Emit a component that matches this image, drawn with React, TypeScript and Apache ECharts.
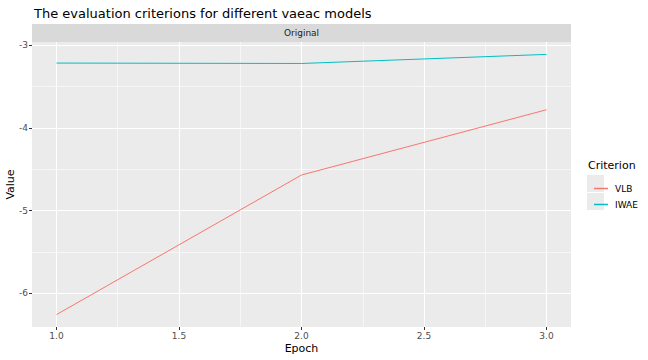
import React, { useEffect, useRef } from "react";
import * as echarts from "echarts";

const epochs = [1, 2, 3];
const vlbValues = [-6.26, -4.57, -3.78];
const iwaeValues = [-3.215, -3.22, -3.11];
const seriesNames = ["VLB", "IWAE"];
const seriesColors = ["#F8766D", "#00BFC4"];
const xMajorTicks = [1, 1.5, 2, 2.5, 3];
const xMinorTicks = [1.25, 1.75, 2.25, 2.75];
const yMajorTicks = [-6, -5, -4, -3];
const yMinorTicks = [-5.5, -4.5, -3.5];

const FONT = "DejaVu Sans, Liberation Sans, sans-serif";

export default function App() {
  const ref = useRef<HTMLDivElement>(null);
  useEffect(() => {
    if (!ref.current) return;
    const chart = echarts.init(ref.current, null, { renderer: "svg" });
    const gridLeft = 32;
    const gridRight = 571;
    const gridTop = 42;
    const gridBottom = 327;

    const gridLines: any[] = [];
    xMajorTicks.forEach((v) => gridLines.push({ xAxis: v, lineStyle: { color: "#ffffff", width: 1.1, type: "solid" } }));
    xMinorTicks.forEach((v) => gridLines.push({ xAxis: v, lineStyle: { color: "#ffffff", width: 0.55, type: "solid" } }));
    yMajorTicks.forEach((v) => gridLines.push({ yAxis: v, lineStyle: { color: "#ffffff", width: 1.1, type: "solid" } }));
    yMinorTicks.forEach((v) => gridLines.push({ yAxis: v, lineStyle: { color: "#ffffff", width: 0.55, type: "solid" } }));

    const option: any = {
      animation: false,
      textStyle: { fontFamily: FONT },
      title: {
        text: "The evaluation criterions for different vaeac models",
        left: 29,
        top: 2,
        textStyle: { fontSize: 13, fontWeight: "normal", color: "#000000", fontFamily: FONT },
      },
      grid: {
        left: gridLeft,
        right: 648 - gridRight,
        top: gridTop,
        bottom: 360 - gridBottom,
        containLabel: false,
        outerBoundsMode: "none",
        show: true,
        backgroundColor: "#EBEBEB",
        borderWidth: 0,
      },
      legend: {
        orient: "vertical",
        left: 589,
        top: 179,
        itemWidth: 14,
        itemHeight: 1.5,
        itemGap: 7,
        icon: "rect",
        data: seriesNames,
        textStyle: { fontSize: 9, color: "#000000", fontFamily: FONT, padding: [0, 0, 0, 2] },
        selectedMode: false,
      },
      xAxis: {
        type: "value",
        min: 0.9,
        max: 3.1,
        name: "Epoch",
        nameLocation: "middle",
        nameGap: 16,
        nameMoveOverlap: false,
        nameTextStyle: { fontSize: 11, color: "#000000", fontFamily: FONT },
        axisLine: { show: false },
        splitLine: { show: false },
        axisTick: { show: true, length: 3, lineStyle: { color: "#333333", width: 1 }, customValues: xMajorTicks },
        axisLabel: {
          customValues: xMajorTicks,
          fontSize: 9,
          color: "#4D4D4D",
          margin: 4,
          formatter: (v: number) => v.toFixed(1),
        },
      },
      yAxis: {
        type: "value",
        min: -6.41,
        max: -2.96,
        name: "Value",
        nameLocation: "middle",
        nameGap: 16,
        nameMoveOverlap: false,
        nameRotate: 90,
        nameTextStyle: { fontSize: 11, color: "#000000", fontFamily: FONT },
        axisLine: { show: false },
        splitLine: { show: false },
        axisTick: { show: true, length: 3, lineStyle: { color: "#333333", width: 1 }, customValues: yMajorTicks },
        axisLabel: {
          customValues: yMajorTicks,
          fontSize: 9,
          color: "#4D4D4D",
          margin: 4,
          formatter: (v: number) => String(v),
        },
      },
      graphic: [
        {
          type: "rect",
          shape: { x: gridLeft, y: 24, width: gridRight - gridLeft, height: 18 },
          style: { fill: "#D9D9D9" },
          z: 0,
        },
        {
          type: "text",
          x: (gridLeft + gridRight) / 2,
          y: 33,
          style: { text: "Original", fill: "#1A1A1A", fontSize: 9, fontFamily: FONT, align: "center", verticalAlign: "middle" },
          z: 1,
        },
        {
          type: "text",
          x: 588,
          y: 165,
          style: { text: "Criterion", fill: "#000000", fontSize: 11, fontFamily: FONT, align: "left", verticalAlign: "middle" },
        },
        {
          type: "rect",
          shape: { x: 587, y: 175, width: 17, height: 17 },
          style: { fill: "#EBEBEB" },
          z: 0,
        },
        {
          type: "rect",
          shape: { x: 587, y: 193, width: 17, height: 17 },
          style: { fill: "#EBEBEB" },
          z: 0,
        },
      ],
      series: [
        {
          name: "__grid",
          type: "line",
          data: [],
          z: 1,
          silent: true,
          markLine: {
            silent: true,
            symbol: ["none", "none"],
            label: { show: false },
            z: 1,
            data: gridLines,
          },
        },
        {
          name: seriesNames[0],
          type: "line",
          data: epochs.map((e, i) => [e, vlbValues[i]]),
          showSymbol: false,
          symbol: "none",
          lineStyle: { color: seriesColors[0], width: 1 },
          itemStyle: { color: seriesColors[0] },
          z: 3,
        },
        {
          name: seriesNames[1],
          type: "line",
          data: epochs.map((e, i) => [e, iwaeValues[i]]),
          showSymbol: false,
          symbol: "none",
          lineStyle: { color: seriesColors[1], width: 1 },
          itemStyle: { color: seriesColors[1] },
          z: 3,
        },
      ],
    };
    chart.setOption(option);
    return () => chart.dispose();
  }, []);
  return <div ref={ref} style={{ width: 648, height: 360, position: "absolute", left: 0, top: 0 }} />;
}
